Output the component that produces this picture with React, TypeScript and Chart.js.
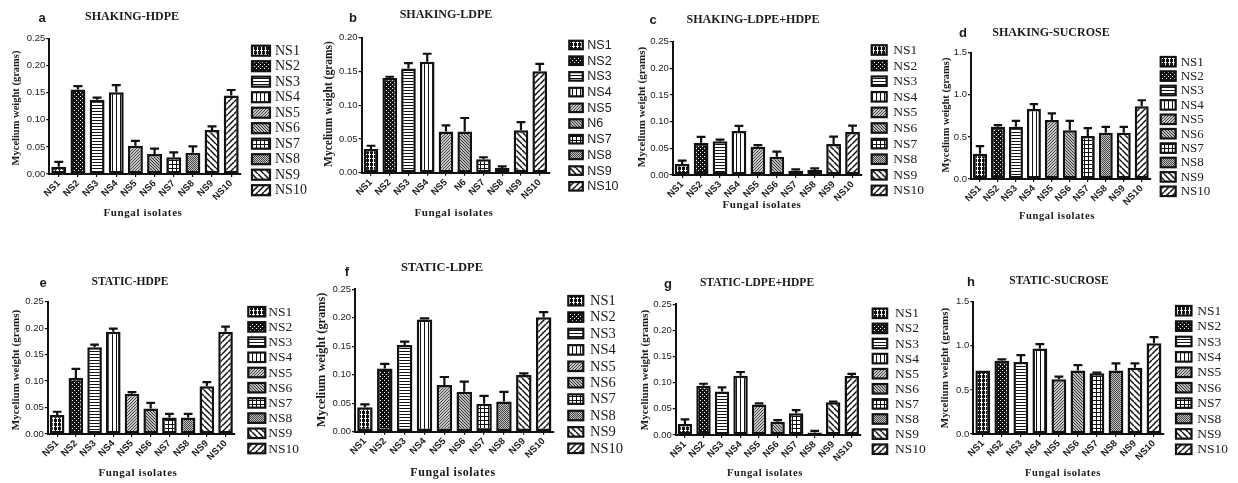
import React, { useEffect, useRef } from "react";
import { Chart, registerables } from "chart.js";

Chart.register(...registerables);

const W = 1238;
const H = 483;

// ---------- DATA ----------
const isolates = ["NS1", "NS2", "NS3", "NS4", "NS5", "NS6", "NS7", "NS8", "NS9", "NS10"];
const isolatesB = ["NS1", "NS2", "NS3", "NS4", "NS5", "N6", "NS7", "NS8", "NS9", "NS10"];

const shakingHdpe = [0.0135, 0.156, 0.137, 0.151, 0.052, 0.037, 0.031, 0.039, 0.081, 0.145];
const shakingHdpeErr = [0.009, 0.006, 0.004, 0.013, 0.009, 0.01, 0.009, 0.012, 0.007, 0.01];

const shakingLdpe = [0.035, 0.14, 0.154, 0.164, 0.061, 0.061, 0.02, 0.007, 0.063, 0.15];
const shakingLdpeErr = [0.005, 0.002, 0.008, 0.012, 0.009, 0.02, 0.003, 0.0025, 0.012, 0.011];

const shakingMix = [0.0205, 0.0605, 0.0635, 0.0825, 0.053, 0.034, 0.008, 0.0095, 0.058, 0.0805];
const shakingMixErr = [0.0065, 0.011, 0.003, 0.0095, 0.003, 0.01, 0.0025, 0.003, 0.014, 0.012];

const shakingSucrose = [0.3, 0.62, 0.62, 0.83, 0.7, 0.58, 0.51, 0.55, 0.55, 0.865];
const shakingSucroseErr = [0.09, 0.02, 0.07, 0.06, 0.08, 0.11, 0.095, 0.07, 0.07, 0.07];

const staticHdpe = [0.036, 0.106, 0.164, 0.193, 0.076, 0.048, 0.031, 0.031, 0.09, 0.193];
const staticHdpeErr = [0.006, 0.017, 0.005, 0.006, 0.003, 0.011, 0.007, 0.007, 0.008, 0.01];

const staticLdpe = [0.043, 0.111, 0.152, 0.197, 0.082, 0.07, 0.049, 0.053, 0.0995, 0.201];
const staticLdpeErr = [0.005, 0.008, 0.006, 0.002, 0.014, 0.018, 0.014, 0.017, 0.003, 0.009];

const staticMix = [0.021, 0.094, 0.083, 0.1135, 0.0585, 0.0255, 0.0415, 0.005, 0.0625, 0.113];
const staticMixErr = [0.009, 0.004, 0.008, 0.007, 0.002, 0.003, 0.006, 0.003, 0.0015, 0.004];

const staticSucrose = [0.72, 0.83, 0.815, 0.97, 0.62, 0.72, 0.69, 0.72, 0.75, 1.03];
const staticSucroseErr = [0, 0.015, 0.08, 0.05, 0.03, 0.06, 0.005, 0.08, 0.05, 0.068];

const polymerTicks = { max: 0.25, step: 0.05, dec: 2 };
const ldpeTicks = { max: 0.2, step: 0.05, dec: 2 };
const sucroseTicks = { max: 1.5, step: 0.5, dec: 1 };

const yTitle = "Mycelium weight (grams)";
const xTitle = "Fungal isolates";

// ---------- LAYOUT ----------
const SERIF = "'Liberation Serif', 'DejaVu Serif', serif";
const SANS = "'Liberation Sans', Arial, sans-serif";

type Panel = {
  letter: string;
  title: string;
  labels: string[];
  values: number[];
  errors: number[];
  axis: { max: number; step: number; dec: number };
  area: { L: number; T: number; R: number; B: number };
  letterPos: [number, number];
  titlePos: [number, number];
  titleSize: number;
  yTitlePos: [number, number];
  yTitleSize: number;
  xTitlePos: [number, number];
  xTitleSize: number;
  legend: { boxX: number; boxW: number; boxH: number; textX: number; y0: number; dy: number; font: string };
};

const panels: Panel[] = [
  {
    letter: "a", title: "SHAKING-HDPE", labels: isolates, values: shakingHdpe, errors: shakingHdpeErr, axis: polymerTicks,
    area: { L: 49.2, T: 38.5, R: 240.8, B: 174 },
    letterPos: [42, 18], titlePos: [132, 17], titleSize: 12,
    yTitlePos: [16, 108], yTitleSize: 10.5, xTitlePos: [143, 213], xTitleSize: 11,
    legend: { boxX: 252, boxW: 18, boxH: 10, textX: 275, y0: 50.7, dy: 15.5, font: `14px ${SERIF}` },
  },
  {
    letter: "b", title: "SHAKING-LDPE", labels: isolatesB, values: shakingLdpe, errors: shakingLdpeErr, axis: ldpeTicks,
    area: { L: 361.6, T: 37.5, R: 549.1, B: 172.8 },
    letterPos: [353, 18], titlePos: [446, 15], titleSize: 12,
    yTitlePos: [329, 104], yTitleSize: 11.5, xTitlePos: [454, 213], xTitleSize: 11,
    legend: { boxX: 569.3, boxW: 13.5, boxH: 8.5, textX: 587.3, y0: 45, dy: 15.7, font: `12.5px ${SANS}` },
  },
  {
    letter: "c", title: "SHAKING-LDPE+HDPE", labels: isolates, values: shakingMix, errors: shakingMixErr, axis: polymerTicks,
    area: { L: 672.7, T: 41.7, R: 862, B: 175 },
    letterPos: [653, 20], titlePos: [753, 20], titleSize: 12,
    yTitlePos: [642, 107], yTitleSize: 11, xTitlePos: [762, 205], xTitleSize: 11,
    legend: { boxX: 871.7, boxW: 15, boxH: 9.5, textX: 893.3, y0: 50, dy: 15.6, font: `13.5px ${SERIF}` },
  },
  {
    letter: "d", title: "SHAKING-SUCROSE", labels: isolates, values: shakingSucrose, errors: shakingSucroseErr, axis: sucroseTicks,
    area: { L: 971, T: 52.7, R: 1150.7, B: 179 },
    letterPos: [963, 33], titlePos: [1051, 33], titleSize: 12,
    yTitlePos: [946, 115], yTitleSize: 10.5, xTitlePos: [1057, 216], xTitleSize: 10.5,
    legend: { boxX: 1160.7, boxW: 15, boxH: 9.5, textX: 1180.7, y0: 61.7, dy: 14.4, font: `13px ${SERIF}` },
  },
  {
    letter: "e", title: "STATIC-HDPE", labels: isolates, values: staticHdpe, errors: staticHdpeErr, axis: polymerTicks,
    area: { L: 47.8, T: 301.7, R: 234.9, B: 434 },
    letterPos: [43, 283], titlePos: [130, 282], titleSize: 11.5,
    yTitlePos: [16, 370], yTitleSize: 11, xTitlePos: [138, 473], xTitleSize: 11,
    legend: { boxX: 248.3, boxW: 17, boxH: 9.5, textX: 268.3, y0: 311.7, dy: 15.2, font: `13.5px ${SERIF}` },
  },
  {
    letter: "f", title: "STATIC-LDPE", labels: isolates, values: staticLdpe, errors: staticLdpeErr, axis: polymerTicks,
    area: { L: 355, T: 289.3, R: 553.6, B: 431.7 },
    letterPos: [347, 272], titlePos: [442, 268], titleSize: 12.5,
    yTitlePos: [322, 360], yTitleSize: 12.3, xTitlePos: [453, 473], xTitleSize: 12,
    legend: { boxX: 568.3, boxW: 15, boxH: 9.5, textX: 590, y0: 300.7, dy: 16.4, font: `14.5px ${SERIF}` },
  },
  {
    letter: "g", title: "STATIC-LDPE+HDPE", labels: isolates, values: staticMix, errors: staticMixErr, axis: polymerTicks,
    area: { L: 675.7, T: 304.3, R: 861, B: 435 },
    letterPos: [668, 284], titlePos: [757, 283], titleSize: 11.5,
    yTitlePos: [645, 370], yTitleSize: 11, xTitlePos: [765, 473], xTitleSize: 10.5,
    legend: { boxX: 872.7, boxW: 14.5, boxH: 9.5, textX: 895, y0: 313.3, dy: 15.1, font: `13.5px ${SERIF}` },
  },
  {
    letter: "h", title: "STATIC-SUCROSE", labels: isolates, values: staticSucrose, errors: staticSucroseErr, axis: sucroseTicks,
    area: { L: 973.3, T: 301.7, R: 1163.5, B: 434 },
    letterPos: [971, 282], titlePos: [1059, 281], titleSize: 11.5,
    yTitlePos: [945, 368], yTitleSize: 11, xTitlePos: [1063, 473], xTitleSize: 10.5,
    legend: { boxX: 1176, boxW: 15.5, boxH: 9.5, textX: 1197.3, y0: 310.7, dy: 15.4, font: `13.5px ${SERIF}` },
  },
];

const YW = 30;
const XH = 40;
const INK = "#111";

function makePatterns(ctx: CanvasRenderingContext2D): CanvasPattern[] {
  const mk = (w: number, h: number, draw: (t: CanvasRenderingContext2D) => void) => {
    const c = document.createElement("canvas");
    c.width = w;
    c.height = h;
    const t = c.getContext("2d")!;
    draw(t);
    return ctx.createPattern(c, "repeat")!;
  };
  const stripes = (t: CanvasRenderingContext2D, s: number, dir: 1 | -1, lw: number, bg: string, fg: string) => {
    t.fillStyle = bg;
    t.fillRect(0, 0, s, s);
    t.strokeStyle = fg;
    t.lineWidth = lw;
    t.beginPath();
    for (const k of [-s, 0, s]) {
      if (dir === 1) {
        t.moveTo(k, 0);
        t.lineTo(k + s, s);
      } else {
        t.moveTo(k, s);
        t.lineTo(k + s, 0);
      }
    }
    t.stroke();
  };
  return [
    mk(4, 4, (t) => {
      t.fillStyle = INK; t.fillRect(0, 0, 4, 4);
      t.fillStyle = "#fff"; t.fillRect(1, 0, 1, 4); t.fillRect(0, 2, 3, 1);
    }),
    mk(4, 4, (t) => {
      t.fillStyle = INK; t.fillRect(0, 0, 4, 4);
      t.fillStyle = "#fff"; t.fillRect(0, 0, 1, 1); t.fillRect(2, 2, 1, 1);
    }),
    mk(3, 3, (t) => {
      t.fillStyle = "#fff"; t.fillRect(0, 0, 3, 3);
      t.fillStyle = INK; t.fillRect(0, 0, 3, 1);
    }),
    mk(4, 4, (t) => {
      t.fillStyle = "#fff"; t.fillRect(0, 0, 4, 4);
      t.fillStyle = INK; t.fillRect(0, 0, 1, 4);
    }),
    mk(3, 3, (t) => stripes(t, 3, -1, 1, "#c8c8c8", "#444")),
    mk(3, 3, (t) => stripes(t, 3, 1, 1, "#bdbdbd", "#333")),
    mk(4, 4, (t) => {
      t.fillStyle = "#fff"; t.fillRect(0, 0, 4, 4);
      t.fillStyle = INK; t.fillRect(0, 0, 4, 1); t.fillRect(0, 0, 1, 4);
    }),
    mk(2, 2, (t) => {
      t.fillStyle = "#c4c4c4"; t.fillRect(0, 0, 2, 2);
      t.fillStyle = "#444"; t.fillRect(0, 0, 1, 1); t.fillRect(1, 1, 1, 1);
    }),
    mk(6, 6, (t) => stripes(t, 6, 1, 1.5, "#fff", INK)),
    mk(6, 6, (t) => stripes(t, 6, -1, 1.5, "#fff", INK)),
  ];
}

function PanelChart({ p }: { p: Panel }) {
  const ref = useRef<HTMLCanvasElement | null>(null);
  useEffect(() => {
    const canvas = ref.current!;
    const ctx0 = canvas.getContext("2d")!;
    const patterns = makePatterns(ctx0);

    const deco = {
      id: "deco-" + p.letter,
      afterDatasetsDraw(chart: any) {
        const ctx = chart.ctx as CanvasRenderingContext2D;
        const meta = chart.getDatasetMeta(0);
        const y = chart.scales.y;
        ctx.save();
        ctx.strokeStyle = INK;
        ctx.lineWidth = 2.2;
        meta.data.forEach((bar: any, i: number) => {
          const e = p.errors[i];
          if (!(e > 0)) return;
          const v = p.values[i];
          const y0 = y.getPixelForValue(v);
          const y1 = y.getPixelForValue(v + e);
          const cap = bar.width * 0.6;
          ctx.beginPath();
          ctx.moveTo(bar.x, y0);
          ctx.lineTo(bar.x, y1);
          ctx.moveTo(bar.x - cap / 2, y1);
          ctx.lineTo(bar.x + cap / 2, y1);
          ctx.stroke();
        });
        ctx.restore();
      },
      afterDraw(chart: any) {
        const ctx = chart.ctx as CanvasRenderingContext2D;
        ctx.save();
        ctx.fillStyle = "#1a1a1a";
        ctx.textAlign = "center";
        ctx.textBaseline = "middle";
        // panel letter
        ctx.font = `bold 13px ${SANS}`;
        ctx.fillText(p.letter, p.letterPos[0], p.letterPos[1]);
        // title
        ctx.font = `bold ${p.titleSize}px ${SERIF}`;
        ctx.fillText(p.title, p.titlePos[0], p.titlePos[1]);
        // x title
        ctx.font = `bold ${p.xTitleSize}px ${SERIF}`;
        (ctx as any).letterSpacing = "0.6px";
        ctx.fillText(xTitle, p.xTitlePos[0], p.xTitlePos[1]);
        (ctx as any).letterSpacing = "0px";
        // y title
        ctx.save();
        ctx.translate(p.yTitlePos[0], p.yTitlePos[1]);
        ctx.rotate(-Math.PI / 2);
        ctx.font = `bold ${p.yTitleSize}px ${SERIF}`;
        ctx.fillText(yTitle, 0, 0);
        ctx.restore();
        // legend
        const lg = p.legend;
        ctx.textAlign = "left";
        ctx.font = lg.font;
        p.labels.forEach((lab, i) => {
          const cy = lg.y0 + i * lg.dy;
          ctx.fillStyle = patterns[i];
          ctx.fillRect(lg.boxX, cy - lg.boxH / 2, lg.boxW, lg.boxH);
          ctx.strokeStyle = INK;
          ctx.lineWidth = 2.2;
          ctx.strokeRect(lg.boxX, cy - lg.boxH / 2, lg.boxW, lg.boxH);
          ctx.fillStyle = "#1a1a1a";
          ctx.fillText(lab, lg.textX, cy + 0.5);
        });
        ctx.restore();
      },
    };

    const a = p.area;
    const chart = new Chart(canvas, {
      type: "bar",
      data: {
        labels: p.labels,
        datasets: [
          {
            data: p.values,
            backgroundColor: patterns as any,
            borderColor: INK,
            borderWidth: 2.5,
            borderSkipped: false,
            barPercentage: 0.78,
            categoryPercentage: 1,
          },
        ],
      },
      options: {
        responsive: false,
        animation: false,
        devicePixelRatio: 1,
        events: [],
        layout: { padding: { left: a.L - YW, top: a.T, right: W - a.R, bottom: H - a.B - XH } },
        plugins: {
          legend: { display: false },
          title: { display: false },
          tooltip: { enabled: false },
        },
        scales: {
          x: {
            type: "category",
            offset: true,
            grid: { display: true, drawOnChartArea: false, drawTicks: true, tickLength: 3, offset: false, color: INK, lineWidth: 1.2 },
            border: { display: true, color: INK, width: 2 },
            ticks: {
              autoSkip: false,
              minRotation: 45,
              maxRotation: 45,
              padding: 1,
              color: "#1a1a1a",
              font: { family: SANS, size: 9.5, weight: "bold" },
            },
            afterFit: (s: any) => {
              s.height = XH;
            },
          },
          y: {
            min: 0,
            max: p.axis.max,
            grid: { display: true, drawOnChartArea: false, drawTicks: true, tickLength: 3, color: INK, lineWidth: 1.2 },
            border: { display: true, color: INK, width: 2 },
            ticks: {
              stepSize: p.axis.step,
              padding: 1,
              color: "#222",
              font: { family: SANS, size: 9.5 },
              callback: (v: any) => Number(v).toFixed(p.axis.dec),
            },
            afterFit: (s: any) => {
              s.width = YW;
            },
          },
        },
      } as any,
      plugins: [deco],
    });
    return () => chart.destroy();
  }, [p]);
  return (
    <canvas
      ref={ref}
      width={W}
      height={H}
      style={{ position: "absolute", left: 0, top: 0, width: W, height: H }}
    />
  );
}

export default function App() {
  return (
    <div style={{ position: "absolute", left: 0, top: 0, width: W, height: H, background: "#fff", overflow: "hidden" }}>
      {panels.map((p) => (
        <PanelChart key={p.letter} p={p} />
      ))}
    </div>
  );
}
